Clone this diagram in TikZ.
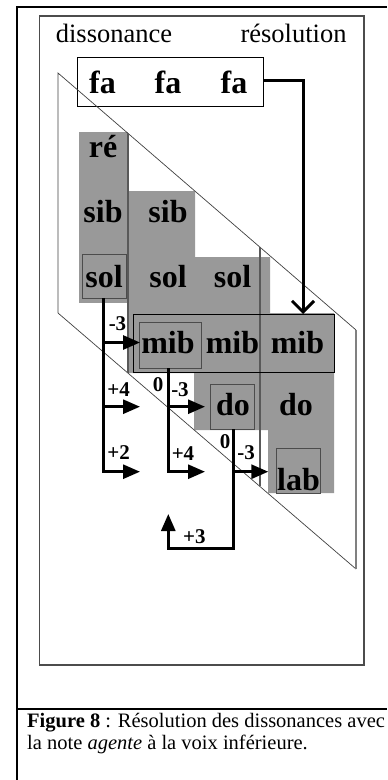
\documentclass[tikz,border=0pt]{standalone}
\usepackage{fontspec}
\setmainfont{Liberation Serif}
\usetikzlibrary{arrows.meta}
\begin{document}
\begin{tikzpicture}[x=1bp,y=-1bp,
  notetext/.style={font=\fontsize{32bp}{34bp}\selectfont\bfseries, anchor=base, inner sep=0pt},
  headtext/.style={font=\fontsize{26.5bp}{28bp}\selectfont, anchor=base, inner sep=0pt},
  lbl/.style={font=\fontsize{21bp}{23bp}\selectfont\bfseries, anchor=base, inner sep=0pt},
  notebox/.style={draw=black!70, line width=0.9bp},
  flow/.style={line width=2.8bp, -{Triangle[length=17bp,width=14bp]}},
  flowline/.style={line width=2.8bp},
  plane/.style={draw=black!75, line width=0.7bp},
  divider/.style={draw=black!65, line width=1.1bp},
  grayfill/.style={fill=black!40, draw=none}
]
\useasboundingbox (0,0) rectangle (387,780);
% outer frame
\draw[line width=2.2bp] (17,780) -- (17,7) -- (387,7);
\draw[line width=2.2bp] (17,709) -- (387,709);
% inner rectangle
\draw[draw=black!70, line width=1.1bp] (39.5,16) rectangle (364,665);
% headings
\node[headtext] (dis) at (114,43) {dissonance};
\node[headtext] (res) at (293.5,43) {résolution};
% fa box
\draw[black, line width=0.9bp] (77,57) rectangle (263,106);
\coordinate (faR) at (263,80);
\node[notetext] (fa1) at (102.5,93) {fa};
\node[notetext] (fa2) at (168,93) {fa};
\node[notetext] (fa3) at (234,93) {fa};
% gray regions
\fill[grayfill] (79,132) rectangle (128,303);
\fill[grayfill] (128,191) -- (195,191) -- (195,257) -- (270,257) -- (270,313)
  -- (334,313) -- (334,493) -- (268,493) -- (268,430) -- (194,430) -- (194,373)
  -- (128,373) -- cycle;
% parallelogram plane
\draw[plane] (58,313) -- (58,73) -- (356,330);
\draw[plane] (58,313) -- (356,569);
\draw[draw=black!50, line width=1.6bp] (356,330) -- (356,569);
\draw[divider] (128,133) -- (128,373);
\draw[divider] (260,247) -- (260,486);
% boxes
\draw[notebox] (82,254) rectangle (126,298);
\draw[black, line width=1bp] (133,314) rectangle (334,372);
\draw[notebox] (139,322) rectangle (201,368);
\draw[notebox] (210,384) rectangle (254,429);
\draw[notebox] (276,448) rectangle (320,493);
\coordinate (solB) at (103.5,298);
\coordinate (mibB) at (168.3,368);
\coordinate (doB) at (233.3,429);
\coordinate (mibTop) at (303,314);
% notes
\node[notetext] (re) at (103,157) {ré};
\node[notetext] (sib1) at (103,222) {sib};
\node[notetext] (sib2) at (168,222) {sib};
\node[notetext] (sol1) at (104,287) {sol};
\node[notetext] (sol2) at (168,287) {sol};
\node[notetext] (sol3) at (232.5,287) {sol};
\node[notetext] (mib1) at (168,353) {mib};
\node[notetext] (mib2) at (232.5,353) {mib};
\node[notetext] (mib3) at (297.5,353) {mib};
\node[notetext] (do1) at (233,415) {do};
\node[notetext] (do2) at (296,415) {do};
\node[notetext] (lab) at (298.5,490) {lab};
% fa arrow
\draw[line width=3bp, -{Straight Barb[length=11bp,width=22bp,line width=3bp]}]
  (faR) -| (mibTop);
% arrow set 1
\coordinate (c1a) at (103.5,342.5);
\coordinate (c1b) at (103.5,406.7);
\coordinate (c1c) at (103.5,471.7);
\coordinate (t1a) at (140,342.5);
\coordinate (t1b) at (140,406.7);
\coordinate (t1c) at (140,471.7);
\draw[flowline] (solB) -- (c1c);
\draw[flow] (c1a) -- (t1a);
\draw[flow] (c1b) -- (t1b);
\draw[flow] (c1c.center) ++(-1.4,0) -- (t1c);
% arrow set 2
\coordinate (c2b) at (168.3,406.7);
\coordinate (c2c) at (168.3,471.7);
\coordinate (t2b) at (205,406.7);
\coordinate (t2c) at (205,471.7);
\draw[flowline] (mibB) -- (c2c);
\draw[flow] (c2b) -- (t2b);
\draw[flow] (c2c.center) ++(-1.4,0) -- (t2c);
% arrow set 3
\coordinate (c3b) at (233.3,471.7);
\coordinate (c3c) at (233.3,548.3);
\coordinate (t3b) at (268.3,471.7);
\coordinate (t3c) at (168.3,514);
\draw[flow] (c3b) -- (t3b);
\draw[flow] (doB) -- (c3c) -| (t3c);
% labels
\node[lbl] (l1) at (117.5,330.5) {-3};
\node[lbl] (l2) at (118.7,396.7) {+4};
\node[lbl] (l3) at (118.7,459) {+2};
\node[lbl] (l4) at (158,391.7) {0};
\node[lbl] (l5) at (180,396) {-3};
\node[lbl] (l6) at (183,460.7) {+4};
\node[lbl] (l7) at (225,448) {0};
\node[lbl] (l8) at (246,459) {-3};
\node[lbl] (l9) at (194.4,543) {+3};
% caption
\node[anchor=base west, inner sep=0pt, font=\fontsize{20.5bp}{22bp}\selectfont] (cap1) at (27,727)
  {\textbf{Figure 8} : Résolution des dissonances avec};
\node[anchor=base west, inner sep=0pt, font=\fontsize{20.5bp}{22bp}\selectfont] (cap2) at (27,749)
  {la note \textit{agente} à la voix inférieure.};
\end{tikzpicture}
\end{document}
